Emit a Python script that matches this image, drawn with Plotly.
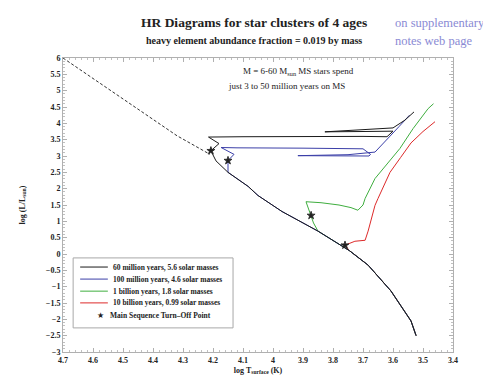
import plotly.graph_objects as go

# ---------------- data (log T_surface, log L/Lsun) ----------------
# shared zero-age main sequence (lower part)
ms_logT = [3.523, 3.54, 3.607, 3.683, 3.745, 3.85, 3.97, 4.05, 4.083, 4.15, 4.19]
ms_logL = [-2.5, -2.05, -1.13, -0.34, 0.10, 0.70, 1.30, 1.79, 2.07, 2.50, 2.85]

# dashed upper main sequence (massive stars)
upper_logT = [4.7, 4.32, 4.21]
upper_logL = [6.0, 3.62, 3.05]

# post-main-sequence parts of each isochrone
iso60_logT = [4.207, 4.18, 4.215, 4.10, 3.90, 3.70, 3.62, 3.60, 3.70, 3.827, 3.75, 3.60, 3.56, 3.53]
iso60_logL = [3.16, 3.38, 3.58, 3.59, 3.60, 3.60, 3.59, 3.76, 3.75, 3.74, 3.78, 3.86, 4.10, 4.35]

iso100_logT = [4.15, 4.13, 4.173, 4.12, 3.90, 3.70, 3.675, 3.68, 3.917, 3.75, 3.66, 3.62, 3.58, 3.545]
iso100_logL = [2.86, 3.05, 3.26, 3.25, 3.24, 3.22, 3.05, 3.00, 3.01, 3.04, 3.12, 3.50, 3.90, 4.25]

iso1g_logT = [3.865, 3.873, 3.885, 3.89, 3.84, 3.78, 3.74, 3.717, 3.70, 3.693, 3.66, 3.607, 3.577, 3.533, 3.483, 3.465]
iso1g_logL = [0.95, 1.18, 1.45, 1.60, 1.57, 1.50, 1.42, 1.34, 1.50, 1.70, 2.31, 2.92, 3.23, 3.84, 4.45, 4.60]

iso10g_logT = [3.76, 3.727, 3.693, 3.683, 3.66, 3.65, 3.61, 3.575, 3.54, 3.50, 3.46]
iso10g_logL = [0.27, 0.39, 0.42, 0.70, 1.49, 1.70, 2.50, 2.95, 3.40, 3.75, 4.05]

# turn-off points
to_logT = [4.207, 4.15, 3.873, 3.76]
to_logL = [3.16, 2.86, 1.18, 0.27]

labels = ["60 million years, 5.6 solar masses",
          "100 million years, 4.6 solar masses",
          "1 billion years, 1.8 solar masses",
          "10 billion years, 0.99 solar masses"]
colors = ["#1a1a1a", "#3b3fa8", "#3fae3f", "#dd2a2a"]
to_label = "Main Sequence Turn\u2013Off Point"

FONT = "Liberation Serif"
TXT = "#222222"


def with_ms(tmax, post_T, post_L):
    xs = [t for t in ms_logT if t <= tmax]
    ys = [l for t, l in zip(ms_logT, ms_logL) if t <= tmax]
    return xs + post_T, ys + post_L


series = [
    with_ms(4.19, iso60_logT, iso60_logL),
    with_ms(4.15, iso100_logT, iso100_logL),
    with_ms(3.85, iso1g_logT, iso1g_logL),
    with_ms(3.745, iso10g_logT, iso10g_logL),
]

fig = go.Figure()

fig.add_trace(go.Scatter(x=upper_logT, y=upper_logL, mode="lines",
                         line=dict(color="#333333", width=1, dash="3px,2px"),
                         showlegend=False, hoverinfo="skip"))

# red first so darker lines sit on top of the shared main sequence
for i in [3, 2, 1, 0]:
    xs, ys = series[i]
    fig.add_trace(go.Scatter(x=xs, y=ys, mode="lines", name=labels[i],
                             line=dict(color=colors[i], width=1),
                             showlegend=False))

fig.add_trace(go.Scatter(x=to_logT, y=to_logL, mode="markers", name=to_label,
                         marker=dict(symbol="star", size=6, color="#222222",
                                     line=dict(color="#222222", width=0.8)),
                         showlegend=False))

axis_common = dict(showline=True, linecolor="#b0b0b0", linewidth=1, mirror="ticks",
                   ticks="inside", ticklen=4, tickcolor="#b0b0b0",
                   showgrid=False, zeroline=False,
                   tickfont=dict(family=FONT, size=8, color=TXT, weight="bold"),
                   minor=dict(ticks="inside", ticklen=2, tickcolor="#c0c0c0"))

fig.update_xaxes(range=[4.7, 3.4], dtick=0.1, tick0=3.4,
                 title=dict(text="log T<sub>surface</sub> (K)", standoff=3,
                            font=dict(family=FONT, size=8, color=TXT, weight="bold")),
                 **axis_common)
fig.update_yaxes(range=[-3, 6], dtick=0.5, tick0=0,
                 title=dict(text="log (L/L<sub>sun</sub>)", standoff=19,
                            font=dict(family=FONT, size=8, color=TXT, weight="bold")),
                 **axis_common)

fig.update_layout(
    width=491, height=376,
    margin=dict(l=55, r=46, t=50, b=32),
    plot_bgcolor="white", paper_bgcolor="white",
    font=dict(family=FONT, color=TXT),
    showlegend=False,
)

# ---- manual compact legend (paper coordinates) ----
lg_x0, lg_x1, lg_top, lg_bot = 0.026, 0.436, 0.320, 0.082
row_y = [0.289, 0.248, 0.207, 0.167, 0.124]
fig.add_shape(type="rect", xref="paper", yref="paper", x0=lg_x0, x1=lg_x1,
              y0=lg_bot, y1=lg_top, line=dict(color="#a8a8a8", width=1),
              fillcolor="white", layer="above")
for i in range(4):
    fig.add_shape(type="line", xref="paper", yref="paper", x0=0.044, x1=0.115,
                  y0=row_y[i], y1=row_y[i], line=dict(color=colors[i], width=1),
                  layer="above")
    fig.add_annotation(text="<b>" + labels[i] + "</b>", xref="paper", yref="paper",
                       x=0.123, y=row_y[i], xanchor="left", yanchor="middle",
                       showarrow=False, font=dict(family=FONT, size=7.5, color=TXT))
fig.add_annotation(text="\u2605", xref="paper", yref="paper", x=0.097, y=row_y[4],
                   xanchor="center", yanchor="middle", showarrow=False,
                   font=dict(family="DejaVu Sans", size=8, color=TXT))
fig.add_annotation(text="<b>" + to_label + "</b>", xref="paper", yref="paper",
                   x=0.115, y=row_y[4], xanchor="left", yanchor="middle",
                   showarrow=False, font=dict(family=FONT, size=7.5, color=TXT))

annotations = [
    dict(text="<b>HR Diagrams for star clusters of 4 ages</b>", x=0.49, y=1.12,
         font=dict(size=13.5)),
    dict(text="<b>heavy element abundance fraction = 0.019 by mass</b>", x=0.49, y=1.058,
         font=dict(size=10)),
    dict(text="on supplementary", x=0.846, y=1.12, xanchor="left",
         font=dict(size=12.5, color="#8a8ad4")),
    dict(text="notes web page", x=0.846, y=1.058, xanchor="left",
         font=dict(size=12.5, color="#8a8ad4")),
    dict(text="M = 6-60 M<sub>sun</sub> MS stars spend", x=0.605, y=0.955,
         font=dict(size=9)),
    dict(text="just 3 to 50 million years on MS", x=0.572, y=0.905,
         font=dict(size=9)),
]
for a in annotations:
    a.update(xref="paper", yref="paper", showarrow=False, yanchor="middle")
    a.setdefault("xanchor", "center")
    a["font"].setdefault("color", TXT)
    a["font"]["family"] = FONT
    fig.add_annotation(**a)

fig.write_html("out.html")
